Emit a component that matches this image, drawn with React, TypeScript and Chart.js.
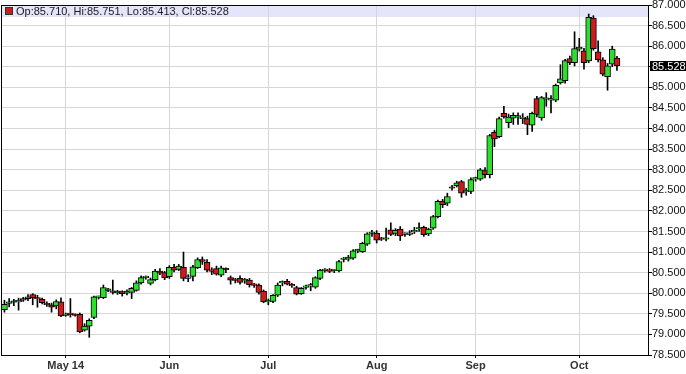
import React, { useEffect, useRef } from 'react';
import { Chart, registerables } from 'chart.js';

Chart.register(...registerables);

// Daily OHLC, trading-day index 0 = mid April, last = Oct 13
const openP = [
  79.60, 79.75, 79.79, 79.79, 79.87, 79.87, 79.97, 79.87, 79.85, 79.72,
  79.72, 79.69, 79.79, 79.46, 79.49, 79.47, 79.49, 79.10, 79.20, 79.41,
  79.90, 79.89, 80.08, 80.03, 80.01, 80.04, 80.00, 80.02, 80.07, 80.25,
  80.38, 80.24, 80.33, 80.54, 80.50, 80.40, 80.63, 80.58, 80.63, 80.36,
  80.41, 80.62, 80.82, 80.75, 80.54, 80.60, 80.44, 80.58, 80.38, 80.32,
  80.36, 80.30, 80.32, 80.20, 80.20, 80.05, 79.79, 79.80, 79.95, 80.25,
  80.29, 80.19, 80.14, 79.99, 80.14, 80.17, 80.15, 80.36, 80.55, 80.56,
  80.55, 80.54, 80.82, 80.83, 80.85, 81.03, 81.01, 81.19, 81.45, 81.46,
  81.32, 81.31, 81.54, 81.45, 81.56, 81.43, 81.43, 81.49, 81.56, 81.60,
  81.44, 81.58, 81.86, 82.24, 82.19, 82.56, 82.61, 82.71, 82.46, 82.47,
  82.77, 82.77, 82.98, 82.88, 83.91, 83.80, 84.37, 84.14, 84.25, 84.28,
  84.24, 84.24, 84.08, 84.73, 84.26, 84.71, 84.69, 84.69, 85.11, 85.16,
  85.70, 85.60, 85.93, 85.89, 85.64, 86.68, 85.86, 85.67, 85.26, 85.56,
  85.710,
];
const highP = [
  79.83, 79.87, 79.85, 79.88, 79.90, 79.97, 79.99, 79.95, 79.88, 79.79,
  79.76, 79.84, 79.89, 79.52, 79.87, 79.50, 79.52, 79.26, 79.38, 79.93,
  79.93, 80.20, 80.12, 80.32, 80.07, 80.06, 80.08, 80.14, 80.30, 80.42,
  80.42, 80.37, 80.58, 80.60, 80.53, 80.67, 80.70, 80.70, 81.00, 80.45,
  80.68, 80.86, 80.88, 80.82, 80.62, 80.66, 80.66, 80.62, 80.42, 80.36,
  80.42, 80.36, 80.36, 80.24, 80.23, 80.08, 79.86, 79.97, 80.25, 80.30,
  80.34, 80.24, 80.17, 80.14, 80.20, 80.24, 80.40, 80.58, 80.60, 80.60,
  80.58, 80.80, 80.87, 80.92, 81.06, 81.07, 81.24, 81.47, 81.53, 81.52,
  81.36, 81.58, 81.71, 81.57, 81.62, 81.47, 81.52, 81.60, 81.71, 81.63,
  81.58, 81.89, 82.26, 82.28, 82.43, 82.62, 82.72, 82.74, 82.55, 82.80,
  82.82, 83.03, 83.05, 83.86, 83.96, 84.28, 84.54, 84.35, 84.38, 84.38,
  84.36, 84.30, 84.40, 84.78, 84.78, 84.87, 84.80, 85.08, 85.55, 85.68,
  85.76, 86.35, 86.19, 85.95, 86.78, 86.74, 86.13, 85.72, 85.58, 86.00,
  85.751,
];
const lowP = [
  79.54, 79.67, 79.70, 79.59, 79.80, 79.82, 79.72, 79.66, 79.74, 79.68,
  79.54, 79.62, 79.43, 79.44, 79.42, 79.44, 79.04, 79.08, 78.93, 79.38,
  79.86, 79.87, 80.04, 79.98, 79.97, 79.93, 79.96, 79.87, 80.05, 80.22,
  80.34, 80.20, 80.30, 80.45, 80.33, 80.36, 80.52, 80.55, 80.30, 80.28,
  80.30, 80.60, 80.70, 80.52, 80.45, 80.44, 80.40, 80.50, 80.22, 80.25,
  80.22, 80.24, 80.15, 80.14, 79.98, 79.77, 79.72, 79.77, 79.92, 80.18,
  80.20, 80.14, 79.96, 79.97, 80.10, 80.06, 80.12, 80.33, 80.51, 80.50,
  80.50, 80.52, 80.76, 80.78, 80.82, 80.98, 80.99, 81.16, 81.38, 81.22,
  81.28, 81.27, 81.40, 81.40, 81.28, 81.38, 81.40, 81.45, 81.50, 81.38,
  81.40, 81.55, 81.83, 82.08, 82.13, 82.50, 82.58, 82.33, 82.38, 82.42,
  82.72, 82.74, 82.80, 82.80, 83.56, 83.78, 84.25, 84.02, 84.10, 84.10,
  84.12, 83.85, 83.93, 84.28, 84.20, 84.54, 84.38, 84.65, 85.08, 85.10,
  85.55, 85.52, 85.88, 85.44, 85.60, 85.90, 85.62, 85.28, 84.93, 85.50,
  85.413,
];
const closeP = [
  79.73, 79.79, 79.78, 79.83, 79.83, 79.91, 79.89, 79.86, 79.77, 79.75,
  79.66, 79.80, 79.45, 79.49, 79.48, 79.46, 79.06, 79.20, 79.34, 79.91,
  79.91, 80.14, 80.07, 80.02, 80.05, 79.99, 80.05, 80.12, 80.25, 80.38,
  80.38, 80.33, 80.54, 80.49, 80.37, 80.63, 80.56, 80.66, 80.36, 80.39,
  80.64, 80.82, 80.77, 80.56, 80.53, 80.46, 80.62, 80.57, 80.32, 80.31,
  80.26, 80.31, 80.21, 80.19, 80.02, 79.79, 79.80, 79.95, 80.20, 80.26,
  80.22, 80.18, 79.98, 80.12, 80.18, 80.21, 80.38, 80.56, 80.56, 80.53,
  80.55, 80.77, 80.83, 80.88, 81.03, 81.03, 81.21, 81.44, 81.46, 81.29,
  81.31, 81.32, 81.43, 81.53, 81.39, 81.43, 81.47, 81.53, 81.57, 81.42,
  81.56, 81.86, 82.23, 82.15, 82.35, 82.55, 82.68, 82.43, 82.47, 82.76,
  82.78, 83.00, 82.88, 83.83, 83.75, 84.24, 84.28, 84.28, 84.32, 84.28,
  84.28, 84.10, 84.37, 84.34, 84.75, 84.72, 84.70, 85.05, 85.21, 85.65,
  85.60, 85.94, 85.98, 85.60, 86.70, 85.94, 85.67, 85.32, 85.52, 85.93,
  85.528,
];

const monthTickIndex = [13, 35, 56, 79, 100, 122];
const monthTickLabels = ['May 14', 'Jun', 'Jul', 'Aug', 'Sep', 'Oct'];

const yMin = 78.5;
const yMax = 87.0;
const yStep = 0.5;

const GREEN = '#2ddf2d';
const RED = '#cc1b1b';
const GRID = '#d6d6d6';
const FONT = "'Liberation Sans', Arial, sans-serif";

export default function App() {
  const ref = useRef<HTMLCanvasElement | null>(null);

  useEffect(() => {
    if (!ref.current) return;
    const n = openP.length;
    const idx = openP.map((_, i) => i);
    const bodies = idx.map((i) => ({
      x: i,
      y: [Math.min(openP[i], closeP[i]), Math.max(openP[i], closeP[i])],
    }));
    const wicks = idx.map((i) => ({ x: i, y: [lowP[i], highP[i]] }));
    const colors = idx.map((i) => (closeP[i] >= openP[i] ? GREEN : RED));
    const last = n - 1;

    const bandPlugin = {
      id: 'band',
      beforeDraw(chart: any) {
        const { ctx, chartArea } = chart;
        ctx.save();
        ctx.fillStyle = '#fff';
        ctx.fillRect(0, 0, chart.width, chart.height);
        ctx.fillStyle = '#e4e4fa';
        ctx.fillRect(chartArea.left, chartArea.top, chartArea.right - chartArea.left, 12);
        ctx.restore();
      },
      afterDraw(chart: any) {
        const { ctx, chartArea, scales } = chart;
        ctx.save();
        // frame
        ctx.strokeStyle = '#000';
        ctx.lineWidth = 1;
        ctx.strokeRect(
          Math.round(chartArea.left) + 0.5,
          Math.round(chartArea.top) + 0.5,
          Math.round(chartArea.right - chartArea.left) - 1,
          Math.round(chartArea.bottom - chartArea.top)
        );
        // header quote
        ctx.fillStyle = RED;
        ctx.fillRect(chartArea.left + 4.5, chartArea.top + 2.5, 7, 7);
        ctx.strokeStyle = '#333';
        ctx.strokeRect(chartArea.left + 4.5, chartArea.top + 2.5, 7, 7);
        ctx.fillStyle = '#1a1a1a';
        ctx.font = `11px ${FONT}`;
        ctx.textBaseline = 'middle';
        ctx.textAlign = 'left';
        const txt = `Op:${openP[last].toFixed(3)}, Hi:${highP[last].toFixed(3)}, Lo:${lowP[last].toFixed(3)}, Cl:${closeP[last].toFixed(3)}`;
        ctx.fillText(txt, chartArea.left + 15, chartArea.top + 6.5);
        // last price marker
        const yp = scales.y.getPixelForValue(closeP[last]);
        ctx.fillStyle = '#000';
        ctx.fillRect(chartArea.right + 1, Math.round(yp) - 5, chart.width - chartArea.right - 1, 10);
        ctx.fillStyle = '#fff';
        ctx.fillText(closeP[last].toFixed(3), chartArea.right + 3, Math.round(yp) + 0.5);
        ctx.restore();
      },
    };

    const chart = new Chart(ref.current, {
      type: 'bar',
      data: {
        datasets: [
          {
            label: 'body',
            data: bodies as any,
            backgroundColor: colors,
            borderColor: '#000',
            borderWidth: 1,
            borderSkipped: false,
            barThickness: 6,
            minBarLength: 1.5,
            grouped: false,
            order: 0,
          } as any,
          {
            label: 'wick',
            data: wicks as any,
            backgroundColor: '#000',
            borderWidth: 0,
            barThickness: 1,
            grouped: false,
            order: 1,
          } as any,
        ],
      },
      plugins: [bandPlugin],
      options: {
        animation: false,
        responsive: false,
        maintainAspectRatio: false,
        devicePixelRatio: 1,
        layout: { padding: { left: 1, top: 5, right: 0, bottom: 0 } },
        plugins: { legend: { display: false }, tooltip: { enabled: false } },
        scales: {
          x: {
            type: 'linear',
            min: -0.73,
            max: 136.8,
            offset: false,
            grid: { offset: false, color: GRID, tickColor: '#000', tickLength: 3 },
            border: { display: false },
            afterBuildTicks: (scale: any) => {
              scale.ticks = monthTickIndex.map((v) => ({ value: v }));
            },
            afterFit: (scale: any) => {
              scale.height = 19;
              scale.paddingLeft = 0;
              scale.paddingRight = 0;
            },
            ticks: {
              autoSkip: false,
              maxRotation: 0,
              minRotation: 0,
              padding: 1,
              color: '#333',
              font: { family: FONT, size: 11, weight: 'bold' },
              callback: (v: any) => {
                const k = monthTickIndex.indexOf(Number(v));
                return k >= 0 ? monthTickLabels[k] : '';
              },
            },
          } as any,
          y: {
            type: 'linear',
            position: 'right',
            min: yMin,
            max: yMax,
            grid: { color: GRID, tickColor: '#000', tickLength: 3 },
            border: { display: false },
            afterFit: (scale: any) => {
              scale.width = 37;
              scale.paddingTop = 0;
              scale.paddingBottom = 0;
            },
            ticks: {
              stepSize: yStep,
              padding: 0,
              color: '#111',
              font: { family: FONT, size: 11 },
              callback: (v: any) => Number(v).toFixed(3),
            },
          } as any,
        },
      },
    });
    return () => chart.destroy();
  }, []);

  return (
    <div style={{ position: 'absolute', left: 0, top: 0, width: 686, height: 374, background: '#fff' }}>
      <canvas ref={ref} width={686} height={374} style={{ display: 'block', width: 686, height: 374 }} />
    </div>
  );
}
